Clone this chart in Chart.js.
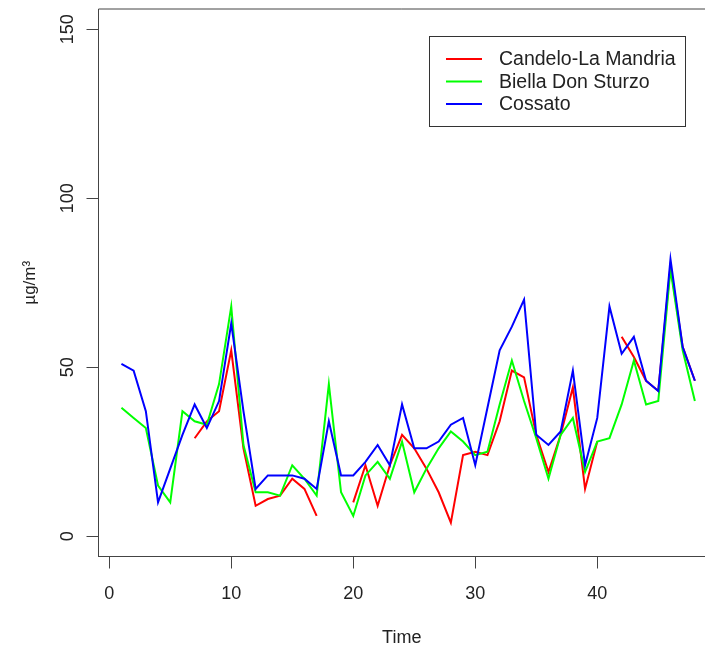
<!DOCTYPE html>
<html>
<head>
<meta charset="utf-8">
<script src="https://cdn.jsdelivr.net/npm/chart.js@4"></script>
<style>
  html, body { margin: 0; padding: 0; background: #fff; overflow: hidden; }
  #wrap { width: 705px; height: 652px; }
</style>
</head>
<body>
<div id="wrap"><canvas id="pmChart" width="705" height="652"></canvas></div>
<script>
// giorni 1..48
const time = Array.from({ length: 48 }, (_, i) => i + 1);

const candelo = [null, null, null, null, null, null, 29, 34, 37, 55,
  26, 9, 11, 12, 17, 14, 6, null, null, 10,
  21, 9, 21, 30, 26, 20, 13, 4, 24, 25,
  24, 34, 49, 47, 30, 19, 30, 44, 14, 28,
  null, 59, 53, 46, 43, 80, 56, 46];

const biella = [38, 35, 32, 15, 10, 37, 34, 33, 45, 68,
  27, 13, 13, 12, 21, 17, 12, 45, 13, 6,
  18, 22, 17, 28, 13, 20, 26, 31, 28, 24,
  25, 39, 52, 40, 29, 17, 30, 35, 19, 28,
  29, 39, 52, 39, 40, 79, 55, 40];

const cossato = [51, 49, 37, 10, 20, 30, 39, 32, 40, 63,
  37, 14, 18, 18, 18, 17, 14, 34, 18, 18,
  22, 27, 21, 39, 26, 26, 28, 33, 35, 21,
  38, 55, 62, 70, 30, 27, 31, 49, 21, 35,
  68, 54, 59, 46, 43, 82, 56, 46];

const seriesNames = ['Candelo-La Mandria', 'Biella Don Sturzo', 'Cossato'];
const seriesColors = ['#ff0000', '#00ff00', '#0000ff'];

const xTicks = [0, 10, 20, 30, 40];
const yTicks = [0, 50, 100, 150];

const FONT = '"Liberation Sans", Arial, sans-serif';
const axisColor = '#444';

const toPoints = arr => arr.map((v, i) => ({ x: time[i], y: v }));

// riquadro superiore (il lato destro esce dall'immagine)
const boxPlugin = {
  id: 'rBox',
  afterDraw(chart) {
    const { ctx, chartArea } = chart;
    ctx.save();
    ctx.strokeStyle = axisColor;
    ctx.lineWidth = 1;
    ctx.beginPath();
    ctx.moveTo(chartArea.left, chartArea.top);
    ctx.lineTo(chartArea.right, chartArea.top);
    ctx.stroke();
    ctx.restore();
  }
};

// legenda stile R
const legendPlugin = {
  id: 'rLegend',
  afterDraw(chart) {
    const ctx = chart.ctx;
    const bx = 429.5, by = 36.5, bw = 256, bh = 90;
    ctx.save();
    ctx.fillStyle = '#fff';
    ctx.fillRect(bx, by, bw, bh);
    ctx.strokeStyle = '#333';
    ctx.lineWidth = 1;
    ctx.strokeRect(bx, by, bw, bh);
    ctx.font = '19.5px ' + FONT;
    ctx.textBaseline = 'middle';
    ctx.fillStyle = '#222';
    chart.data.datasets.forEach((ds, i) => {
      const y = 59 + i * 22.5;
      ctx.strokeStyle = ds.borderColor;
      ctx.lineWidth = 2;
      ctx.beginPath();
      ctx.moveTo(446, y);
      ctx.lineTo(482, y);
      ctx.stroke();
      ctx.fillText(ds.label, 499, y + 1);
    });
    ctx.restore();
  }
};

const ctx = document.getElementById('pmChart').getContext('2d');

const chart = new Chart(ctx, {
  type: 'line',
  data: {
    datasets: [
      { label: seriesNames[0], data: toPoints(candelo), borderColor: seriesColors[0], order: 3 },
      { label: seriesNames[1], data: toPoints(biella), borderColor: seriesColors[1], order: 2 },
      { label: seriesNames[2], data: toPoints(cossato), borderColor: seriesColors[2], order: 1 }
    ]
  },
  options: {
    responsive: false,
    animation: false,
    devicePixelRatio: 1,
    layout: { padding: { top: 9, left: 0, right: 0, bottom: 0 } },
    elements: {
      line: { borderWidth: 2, tension: 0, fill: false },
      point: { radius: 0, hoverRadius: 0 }
    },
    spanGaps: false,
    scales: {
      x: {
        type: 'linear',
        position: 'bottom',
        min: -0.88,
        max: 48.83,
        afterBuildTicks: s => { s.ticks = xTicks.map(v => ({ value: v })); },
        afterFit: s => { s.height = 95.5; s.paddingLeft = 0; s.paddingRight = 0; },
        grid: { drawOnChartArea: false, drawTicks: true, tickLength: 12, color: axisColor },
        border: { display: true, color: axisColor, width: 1 },
        ticks: {
          color: '#222',
          padding: 15,
          maxRotation: 0,
          autoSkip: false,
          font: { family: FONT, size: 18 }
        },
        title: {
          display: true,
          text: 'Time',
          color: '#222',
          font: { family: FONT, size: 18 },
          padding: { top: 0, bottom: 3 }
        }
      },
      y: {
        type: 'linear',
        position: 'left',
        min: -6,
        max: 156,
        afterBuildTicks: s => { s.ticks = yTicks.map(v => ({ value: v })); },
        afterFit: s => { s.width = 98.5; s.paddingTop = 0; s.paddingBottom = 0; },
        grid: { drawOnChartArea: false, drawTicks: true, tickLength: 12, color: axisColor },
        border: { display: true, color: axisColor, width: 1 },
        ticks: {
          color: '#222',
          padding: 3,
          minRotation: 90,
          maxRotation: 90,
          crossAlign: 'center',
          font: { family: FONT, size: 18 }
        },
        title: {
          display: true,
          text: 'µg/m³',
          color: '#222',
          font: { family: FONT, size: 17 },
          padding: { top: 20, bottom: 0 }
        }
      }
    },
    plugins: {
      legend: { display: false },
      tooltip: { enabled: false }
    }
  },
  plugins: [boxPlugin, legendPlugin]
});
</script>
</body>
</html>
